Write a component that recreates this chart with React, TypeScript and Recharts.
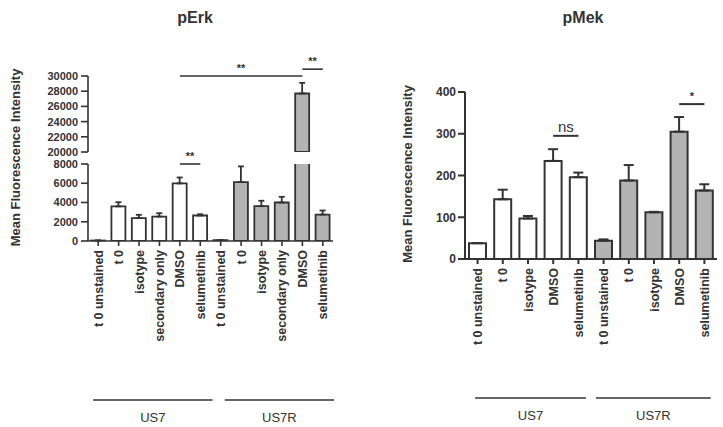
import React from "react";
import { BarChart, Bar, XAxis, YAxis, Cell, ErrorBar, ReferenceLine } from "recharts";

const GROUPS = ["US7", "US7R"];

const ERK_CONDITIONS = ["t 0 unstained", "t 0", "isotype", "secondary only", "DMSO", "selumetinib"];
const ERK_US7 = [50, 3600, 2380, 2540, 5980, 2650];
const ERK_US7_SEM = [0, 430, 340, 350, 620, 130];
const ERK_US7R = [90, 6120, 3620, 4000, 27700, 2750];
const ERK_US7R_SEM = [0, 1630, 560, 590, 1400, 420];
const ERK_LOW_TICKS = [0, 2000, 4000, 6000, 8000];
const ERK_HIGH_TICKS = [20000, 22000, 24000, 26000, 28000, 30000];

const MEK_CONDITIONS = ["t 0 unstained", "t 0", "isotype", "DMSO", "selumetinib"];
const MEK_US7 = [38, 143, 97, 235, 196];
const MEK_US7_SEM = [0, 23, 6, 28, 11];
const MEK_US7R = [44, 188, 112, 305, 164];
const MEK_US7R_SEM = [3, 37, 1, 35, 15];
const MEK_TICKS = [0, 100, 200, 300, 400];

const INK = "#333333";
const GREY = "#b3b3b3";
const FONT = "'Liberation Sans', Arial, sans-serif";

type Row = { id: string; name: string; group: number; value: number; sem: number };

function buildRows(conds: string[], a: number[], aSem: number[], b: number[], bSem: number[]): Row[] {
  const rows: Row[] = [];
  [a, b].forEach((vals, g) => {
    const sems = g === 0 ? aSem : bSem;
    conds.forEach((c, i) => rows.push({ id: `${GROUPS[g]}-${i}`, name: c, group: g, value: vals[i], sem: sems[i] }));
  });
  return rows;
}

const erkRows = buildRows(ERK_CONDITIONS, ERK_US7, ERK_US7_SEM, ERK_US7R, ERK_US7R_SEM);
const mekRows = buildRows(MEK_CONDITIONS, MEK_US7, MEK_US7_SEM, MEK_US7R, MEK_US7R_SEM);

const LOW_MAX = 8000;
const HIGH_MIN = 20000;
const erkLow = erkRows.map((r) => ({ ...r, err: r.value > LOW_MAX ? null : [0, r.sem] }));
const erkHigh = erkRows.map((r) => ({
  ...r,
  value: r.value >= HIGH_MIN ? r.value : null,
  err: r.value >= HIGH_MIN ? [0, r.sem] : null,
}));
const mekData = mekRows.map((r) => ({ ...r, err: [0, r.sem] }));

const nameOf = (rows: Row[], id: string) => rows.find((r) => r.id === id)?.name ?? id;

function RotTick(props: any) {
  const { x, y, payload, rows } = props;
  return (
    <text
      x={x}
      y={y}
      transform={`rotate(-90, ${x}, ${y})`}
      textAnchor="end"
      dy="0.36em"
      fill={INK}
      fontSize={12.5}
      fontWeight="bold"
      fontFamily={FONT}
    >
      {nameOf(rows, payload.value)}
    </text>
  );
}

const yTick = (size: number) => ({ fill: INK, fontSize: size, fontWeight: "bold", fontFamily: FONT });
const sigLabel = (v: string, size: number, weight = "bold") => ({
  value: v,
  position: "top" as const,
  fill: INK,
  fontSize: size,
  fontWeight: weight,
  fontFamily: FONT,
  offset: 4,
});

// layout of the two panels
const ERK_LEFT = 88;
const ERK_RIGHT = 333;
const MEK_LEFT = 465;
const MEK_RIGHT = 717;

export default function App() {
  const erkBand = (ERK_RIGHT - ERK_LEFT) / erkRows.length;
  const mekBand = (MEK_RIGHT - MEK_LEFT) / mekRows.length;
  const brackets = [
    { left: ERK_LEFT, band: erkBand, spans: [[0.25, 6.1], [6.7, 12.05]] },
    { left: MEK_LEFT, band: mekBand, spans: [[0.4, 4.8], [5.2, 9.75]] },
  ];

  return (
    <div style={{ position: "absolute", left: 0, top: 0, width: 723, height: 427, background: "#fff", fontFamily: FONT }}>
      {/* pErk upper segment */}
      <div style={{ position: "absolute", left: 0, top: 0 }}>
        <BarChart width={345} height={160} data={erkHigh} margin={{ top: 76, right: 12, bottom: 8, left: 28 }}>
          <XAxis dataKey="id" hide height={0} />
          <YAxis
            width={60}
            domain={[HIGH_MIN, 30000]}
            ticks={ERK_HIGH_TICKS}
            interval={0}
            allowDataOverflow
            tick={yTick(11)}
            tickSize={7}
            tickMargin={3}
            axisLine={{ stroke: INK, strokeWidth: 1.6 }}
            tickLine={{ stroke: INK, strokeWidth: 1.6 }}
          />
          <Bar dataKey="value" barSize={14} stroke={INK} strokeWidth={1.8} isAnimationActive={false}>
            {erkHigh.map((r) => (
              <Cell key={r.id} fill={r.group === 0 ? "#fff" : GREY} />
            ))}
            <ErrorBar dataKey="err" width={3} stroke={INK} strokeWidth={1.8} isAnimationActive={false} />
          </Bar>
          <ReferenceLine
            segment={[{ x: "US7-4", y: 30000 }, { x: "US7R-4", y: 30000 }]}
            stroke={INK}
            strokeWidth={1.6}
            ifOverflow="visible"
            label={sigLabel("**", 11)}
          />
          <ReferenceLine
            segment={[{ x: "US7R-4", y: 30900 }, { x: "US7R-5", y: 30900 }]}
            stroke={INK}
            strokeWidth={1.6}
            ifOverflow="visible"
            label={sigLabel("**", 11)}
          />
        </BarChart>
      </div>

      {/* pErk lower segment */}
      <div style={{ position: "absolute", left: 0, top: 0 }}>
        <BarChart width={345} height={360} data={erkLow} margin={{ top: 164, right: 12, bottom: 0, left: 28 }}>
          <XAxis
            dataKey="id"
            interval={0}
            height={119}
            tickSize={5}
            tickMargin={4}
            tick={(p: any) => <RotTick {...p} rows={erkRows} />}
            axisLine={{ stroke: INK, strokeWidth: 1.6 }}
            tickLine={{ stroke: INK, strokeWidth: 1.6 }}
          />
          <YAxis
            width={60}
            domain={[0, LOW_MAX]}
            ticks={ERK_LOW_TICKS}
            interval={0}
            allowDataOverflow
            tick={yTick(11)}
            tickSize={7}
            tickMargin={3}
            axisLine={{ stroke: INK, strokeWidth: 1.6 }}
            tickLine={{ stroke: INK, strokeWidth: 1.6 }}
          />
          <Bar dataKey="value" barSize={14} stroke={INK} strokeWidth={1.8} isAnimationActive={false}>
            {erkLow.map((r) => (
              <Cell key={r.id} fill={r.group === 0 ? "#fff" : GREY} />
            ))}
            <ErrorBar dataKey="err" width={3} stroke={INK} strokeWidth={1.8} isAnimationActive={false} />
          </Bar>
          <ReferenceLine
            segment={[{ x: "US7-4", y: LOW_MAX }, { x: "US7-5", y: LOW_MAX }]}
            stroke={INK}
            strokeWidth={1.6}
            ifOverflow="visible"
            label={sigLabel("**", 11)}
          />
        </BarChart>
      </div>

      {/* pMek */}
      <div style={{ position: "absolute", left: 0, top: 0 }}>
        <BarChart width={723} height={360} data={mekData} margin={{ top: 92, right: 6, bottom: 0, left: 425 }}>
          <XAxis
            dataKey="id"
            interval={0}
            height={101}
            tickSize={5}
            tickMargin={4}
            tick={(p: any) => <RotTick {...p} rows={mekRows} />}
            axisLine={{ stroke: INK, strokeWidth: 2 }}
            tickLine={{ stroke: INK, strokeWidth: 2 }}
          />
          <YAxis
            width={40}
            domain={[0, 400]}
            ticks={MEK_TICKS}
            interval={0}
            tick={yTick(12)}
            tickSize={7}
            tickMargin={2}
            axisLine={{ stroke: INK, strokeWidth: 2 }}
            tickLine={{ stroke: INK, strokeWidth: 2 }}
          />
          <Bar dataKey="value" barSize={17} stroke={INK} strokeWidth={2} isAnimationActive={false}>
            {mekData.map((r) => (
              <Cell key={r.id} fill={r.group === 0 ? "#fff" : GREY} />
            ))}
            <ErrorBar dataKey="err" width={5} stroke={INK} strokeWidth={2} isAnimationActive={false} />
          </Bar>
          <ReferenceLine
            segment={[{ x: "US7-3", y: 295 }, { x: "US7-4", y: 295 }]}
            stroke={INK}
            strokeWidth={2}
            ifOverflow="visible"
            label={sigLabel("ns", 15, "normal")}
          />
          <ReferenceLine
            segment={[{ x: "US7R-3", y: 371 }, { x: "US7R-4", y: 371 }]}
            stroke={INK}
            strokeWidth={2}
            ifOverflow="visible"
            label={sigLabel("*", 11)}
          />
        </BarChart>
      </div>

      {/* titles, axis titles, group brackets */}
      <svg width={723} height={427} style={{ position: "absolute", left: 0, top: 0, pointerEvents: "none" }}>
        <text x={195} y={17} textAnchor="middle" dominantBaseline="central" fontSize={16} fontWeight="bold" fill={INK} fontFamily={FONT}>
          pErk
        </text>
        <text x={583} y={17} textAnchor="middle" dominantBaseline="central" fontSize={16} fontWeight="bold" fill={INK} fontFamily={FONT}>
          pMek
        </text>
        <text
          transform="translate(15.5, 157.5) rotate(-90)"
          textAnchor="middle"
          dominantBaseline="central"
          fontSize={13}
          fontWeight="bold"
          fill={INK}
          fontFamily={FONT}
        >
          Mean Fluorescence Intensity
        </text>
        <text
          transform="translate(407, 174) rotate(-90)"
          textAnchor="middle"
          dominantBaseline="central"
          fontSize={13}
          fontWeight="bold"
          fill={INK}
          fontFamily={FONT}
        >
          Mean Fluorescence Intensity
        </text>
        {brackets.map((b, bi) =>
          b.spans.map(([s, e], gi) => {
            const x1 = b.left + s * b.band;
            const x2 = b.left + e * b.band;
            const ly = bi === 0 ? 400 : 398;
            return (
              <g key={`${bi}-${gi}`}>
                <line x1={x1} x2={x2} y1={ly} y2={ly} stroke={INK} strokeWidth={1.6} />
                <text x={(x1 + x2) / 2} y={ly + 17} textAnchor="middle" dominantBaseline="central" fontSize={13} fill={INK} fontFamily={FONT}>
                  {GROUPS[gi]}
                </text>
              </g>
            );
          })
        )}
      </svg>
    </div>
  );
}
